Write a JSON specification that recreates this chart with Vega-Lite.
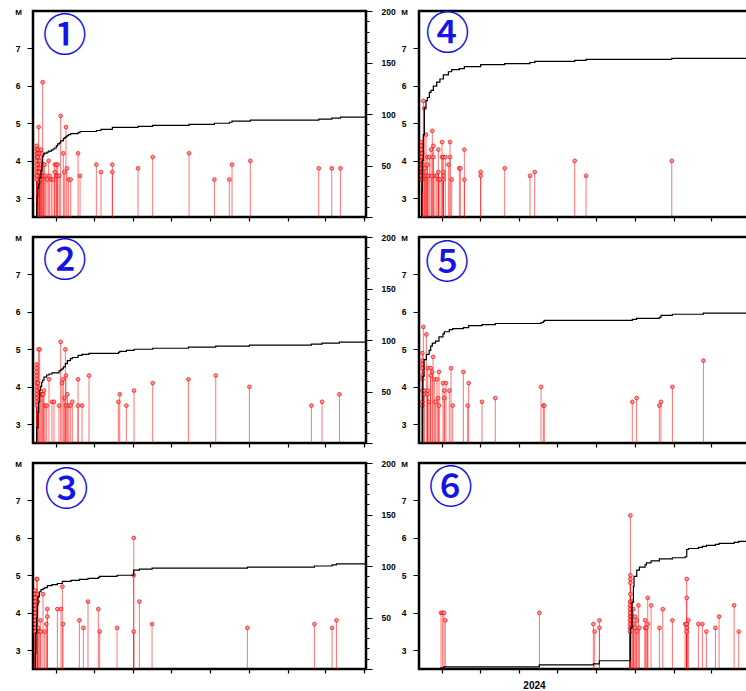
{
  "$schema": "https://vega.github.io/schema/vega-lite/v6.json",
  "padding": {"left": 13, "top": 5, "right": 0, "bottom": 22},
  "spacing": 2,
  "config": {
    "view": {"stroke": "black", "strokeWidth": 2.5},
    "axis": {"labelFont": "Liberation Sans", "labelFontSize": 8.5, "labelFontWeight": "bold", "labelColor": "black", "tickColor": "black", "titleFont": "Liberation Sans", "titleColor": "black"}
  },
  "datasets": {
    "ev": [
      {"p":1,"d":5.8,"m":4.4},{"p":1,"d":5.8,"m":4.3},{"p":1,"d":5.8,"m":4.2},{"p":1,"d":5.8,"m":4.1},{"p":1,"d":5.8,"m":4.0},{"p":1,"d":5.8,"m":3.9},{"p":1,"d":5.8,"m":3.8},{"p":1,"d":5.8,"m":3.7},{"p":1,"d":5.8,"m":3.6},{"p":1,"d":5.8,"m":3.5},
      {"p":1,"d":6.6,"m":3.6},{"p":1,"d":7.4,"m":4.3},{"p":1,"d":7.4,"m":4.2},{"p":1,"d":7.4,"m":4.1},{"p":1,"d":8.9,"m":4.9},{"p":1,"d":9.7,"m":3.7},
      {"p":1,"d":10.5,"m":4.2},{"p":1,"d":10.5,"m":4.0},{"p":1,"d":10.5,"m":3.8},{"p":1,"d":11.6,"m":3.5},{"p":1,"d":12.6,"m":4.3},{"p":1,"d":13.4,"m":3.6},
      {"p":1,"d":14.2,"m":4.2},{"p":1,"d":15.2,"m":6.1},{"p":1,"d":16.8,"m":3.9},{"p":1,"d":16.8,"m":3.6},{"p":1,"d":18.4,"m":3.9},{"p":1,"d":20.0,"m":3.6},
      {"p":1,"d":22.1,"m":3.5},{"p":1,"d":24.7,"m":4.0},{"p":1,"d":26.3,"m":3.6},{"p":1,"d":28.9,"m":3.5},{"p":1,"d":31.5,"m":3.5},{"p":1,"d":34.2,"m":3.9},
      {"p":1,"d":34.2,"m":3.7},{"p":1,"d":36.8,"m":3.9},{"p":1,"d":36.8,"m":3.6},{"p":1,"d":38.9,"m":3.9},{"p":1,"d":38.9,"m":3.6},{"p":1,"d":41.5,"m":3.6},
      {"p":1,"d":43.6,"m":5.2},{"p":1,"d":47.8,"m":4.2},{"p":1,"d":49.4,"m":3.7},{"p":1,"d":52.0,"m":4.9},{"p":1,"d":53.6,"m":3.8},{"p":1,"d":56.2,"m":3.5},
      {"p":1,"d":59.4,"m":3.5},{"p":1,"d":71.0,"m":4.2},{"p":1,"d":74.1,"m":3.6},{"p":1,"d":99.9,"m":3.9},{"p":1,"d":107.2,"m":3.7},{"p":1,"d":125.1,"m":3.9},
      {"p":1,"d":125.1,"m":3.7},{"p":1,"d":165.6,"m":3.8},{"p":1,"d":188.7,"m":4.1},{"p":1,"d":246.0,"m":4.2},{"p":1,"d":286.0,"m":3.5},{"p":1,"d":309.6,"m":3.5},
      {"p":1,"d":313.8,"m":3.9},{"p":1,"d":342.7,"m":4.0},{"p":1,"d":450.5,"m":3.8},{"p":1,"d":471.0,"m":3.8},{"p":1,"d":484.7,"m":3.8},

      {"p":2,"d":5.8,"m":4.6},{"p":2,"d":5.8,"m":4.5},{"p":2,"d":5.8,"m":4.4},{"p":2,"d":5.8,"m":4.3},{"p":2,"d":5.8,"m":4.2},{"p":2,"d":5.8,"m":4.1},
      {"p":2,"d":5.8,"m":4.0},{"p":2,"d":5.8,"m":3.9},{"p":2,"d":5.8,"m":3.8},{"p":2,"d":5.8,"m":3.7},{"p":2,"d":5.8,"m":3.6},{"p":2,"d":5.8,"m":3.5},
      {"p":2,"d":7.9,"m":4.1},{"p":2,"d":8.9,"m":5.0},{"p":2,"d":10.5,"m":5.0},{"p":2,"d":12.1,"m":3.8},{"p":2,"d":13.7,"m":3.8},{"p":2,"d":15.2,"m":3.8},
      {"p":2,"d":16.3,"m":3.8},{"p":2,"d":17.3,"m":3.9},{"p":2,"d":18.9,"m":3.5},{"p":2,"d":21.5,"m":3.5},{"p":2,"d":25.2,"m":4.2},{"p":2,"d":30.0,"m":3.6},
      {"p":2,"d":33.1,"m":3.6},{"p":2,"d":41.0,"m":3.5},{"p":2,"d":43.6,"m":5.2},{"p":2,"d":45.7,"m":4.1},{"p":2,"d":47.8,"m":4.2},{"p":2,"d":49.4,"m":3.7},
      {"p":2,"d":51.0,"m":5.0},{"p":2,"d":52.0,"m":4.3},{"p":2,"d":52.0,"m":3.5},{"p":2,"d":54.2,"m":3.8},{"p":2,"d":56.2,"m":3.5},{"p":2,"d":58.9,"m":3.5},
      {"p":2,"d":62.0,"m":3.6},{"p":2,"d":71.0,"m":4.2},{"p":2,"d":71.0,"m":3.5},{"p":2,"d":77.3,"m":3.5},{"p":2,"d":88.3,"m":4.3},{"p":2,"d":134.6,"m":3.6},
      {"p":2,"d":136.7,"m":3.8},{"p":2,"d":147.2,"m":3.5},{"p":2,"d":159.3,"m":3.9},{"p":2,"d":188.7,"m":4.1},{"p":2,"d":245.0,"m":4.2},{"p":2,"d":288.1,"m":4.3},
      {"p":2,"d":341.2,"m":4.0},{"p":2,"d":438.9,"m":3.5},{"p":2,"d":455.7,"m":3.6},{"p":2,"d":483.1,"m":3.8},

      {"p":3,"d":3.7,"m":4.6},{"p":3,"d":3.7,"m":4.5},{"p":3,"d":3.7,"m":4.4},{"p":3,"d":3.7,"m":4.3},{"p":3,"d":3.7,"m":4.2},{"p":3,"d":3.7,"m":4.1},
      {"p":3,"d":3.7,"m":4.0},{"p":3,"d":3.7,"m":3.9},{"p":3,"d":3.7,"m":3.8},{"p":3,"d":3.7,"m":3.7},{"p":3,"d":3.7,"m":3.6},{"p":3,"d":3.7,"m":3.5},
      {"p":3,"d":5.8,"m":4.9},{"p":3,"d":6.8,"m":4.9},{"p":3,"d":6.8,"m":4.5},{"p":3,"d":7.9,"m":4.3},{"p":3,"d":7.9,"m":3.6},{"p":3,"d":10.0,"m":3.5},
      {"p":3,"d":11.6,"m":3.8},{"p":3,"d":12.6,"m":3.5},{"p":3,"d":15.8,"m":4.5},{"p":3,"d":18.4,"m":3.5},{"p":3,"d":21.0,"m":3.7},{"p":3,"d":22.6,"m":4.1},
      {"p":3,"d":22.6,"m":3.9},{"p":3,"d":38.4,"m":4.1},{"p":3,"d":44.2,"m":4.1},{"p":3,"d":46.3,"m":4.7},{"p":3,"d":47.3,"m":3.7},{"p":3,"d":73.1,"m":3.8},
      {"p":3,"d":79.4,"m":3.6},{"p":3,"d":86.7,"m":4.3},{"p":3,"d":103.0,"m":4.1},{"p":3,"d":105.1,"m":3.5},{"p":3,"d":132.5,"m":3.6},{"p":3,"d":158.8,"m":6.0},
      {"p":3,"d":158.8,"m":5.0},{"p":3,"d":158.8,"m":3.5},{"p":3,"d":167.7,"m":4.3},{"p":3,"d":187.7,"m":3.7},{"p":3,"d":338.0,"m":3.6},{"p":3,"d":443.7,"m":3.7},
      {"p":3,"d":471.5,"m":3.6},{"p":3,"d":478.4,"m":3.8},

      {"p":4,"d":4.2,"m":4.5},{"p":4,"d":4.2,"m":4.4},{"p":4,"d":4.2,"m":4.3},{"p":4,"d":4.2,"m":4.2},{"p":4,"d":4.2,"m":4.1},{"p":4,"d":4.2,"m":4.0},
      {"p":4,"d":4.2,"m":3.9},{"p":4,"d":4.2,"m":3.8},{"p":4,"d":4.2,"m":3.7},{"p":4,"d":4.2,"m":3.6},{"p":4,"d":4.2,"m":3.5},
      {"p":4,"d":5.0,"m":4.2},{"p":4,"d":5.0,"m":3.9},{"p":4,"d":5.0,"m":3.7},{"p":4,"d":5.0,"m":3.5},{"p":4,"d":6.8,"m":5.6},{"p":4,"d":8.4,"m":5.4},
      {"p":4,"d":9.5,"m":3.6},{"p":4,"d":9.5,"m":3.8},{"p":4,"d":11.0,"m":4.7},{"p":4,"d":12.0,"m":3.6},{"p":4,"d":13.1,"m":4.1},{"p":4,"d":13.1,"m":3.9},
      {"p":4,"d":14.5,"m":3.6},{"p":4,"d":16.3,"m":4.1},{"p":4,"d":18.9,"m":4.3},{"p":4,"d":20.0,"m":3.6},{"p":4,"d":21.0,"m":4.8},{"p":4,"d":22.6,"m":4.4},
      {"p":4,"d":22.6,"m":4.1},{"p":4,"d":25.2,"m":3.6},{"p":4,"d":27.9,"m":3.6},{"p":4,"d":30.5,"m":4.3},{"p":4,"d":30.5,"m":3.7},{"p":4,"d":30.5,"m":3.5},
      {"p":4,"d":33.0,"m":3.5},{"p":4,"d":36.3,"m":4.5},{"p":4,"d":36.3,"m":4.1},{"p":4,"d":38.4,"m":4.1},{"p":4,"d":38.4,"m":3.7},{"p":4,"d":38.4,"m":3.6},
      {"p":4,"d":38.4,"m":3.5},{"p":4,"d":41.5,"m":4.1},{"p":4,"d":46.3,"m":3.9},{"p":4,"d":48.9,"m":4.5},{"p":4,"d":48.9,"m":4.1},{"p":4,"d":51.5,"m":3.5},
      {"p":4,"d":63.6,"m":3.8},{"p":4,"d":65.2,"m":3.8},{"p":4,"d":71.5,"m":4.3},{"p":4,"d":71.5,"m":3.5},{"p":4,"d":97.2,"m":3.7},{"p":4,"d":97.2,"m":3.6},
      {"p":4,"d":135.1,"m":3.8},{"p":4,"d":175.0,"m":3.6},{"p":4,"d":182.4,"m":3.7},{"p":4,"d":245.5,"m":4.0},{"p":4,"d":263.4,"m":3.6},{"p":4,"d":398.5,"m":4.0},

      {"p":5,"d":5.3,"m":4.9},{"p":5,"d":5.3,"m":4.7},{"p":5,"d":5.3,"m":4.6},{"p":5,"d":5.3,"m":4.5},{"p":5,"d":5.3,"m":4.3},{"p":5,"d":5.3,"m":4.2},
      {"p":5,"d":5.3,"m":3.9},{"p":5,"d":5.3,"m":3.6},{"p":5,"d":5.3,"m":3.5},{"p":5,"d":6.8,"m":5.6},{"p":5,"d":8.0,"m":3.8},{"p":5,"d":8.0,"m":3.9},
      {"p":5,"d":11.6,"m":5.4},{"p":5,"d":13.7,"m":4.5},{"p":5,"d":13.7,"m":3.9},{"p":5,"d":13.7,"m":3.8},{"p":5,"d":16.0,"m":3.6},{"p":5,"d":18.4,"m":4.5},
      {"p":5,"d":18.4,"m":4.3},{"p":5,"d":21.0,"m":4.4},{"p":5,"d":22.1,"m":4.8},{"p":5,"d":24.2,"m":4.2},{"p":5,"d":26.0,"m":3.6},{"p":5,"d":28.4,"m":4.2},
      {"p":5,"d":30.0,"m":3.7},{"p":5,"d":31.5,"m":4.4},{"p":5,"d":31.5,"m":3.5},{"p":5,"d":37.8,"m":4.1},{"p":5,"d":39.9,"m":3.9},{"p":5,"d":39.9,"m":3.7},
      {"p":5,"d":42.6,"m":4.1},{"p":5,"d":47.8,"m":3.9},{"p":5,"d":50.5,"m":4.5},{"p":5,"d":53.1,"m":3.5},{"p":5,"d":69.9,"m":4.4},{"p":5,"d":76.7,"m":3.5},
      {"p":5,"d":78.3,"m":4.1},{"p":5,"d":99.3,"m":3.6},{"p":5,"d":120.3,"m":3.7},{"p":5,"d":192.4,"m":4.0},{"p":5,"d":196.0,"m":3.5},{"p":5,"d":197.6,"m":3.5},
      {"p":5,"d":336.3,"m":3.6},{"p":5,"d":343.1,"m":3.7},{"p":5,"d":378.9,"m":3.5},{"p":5,"d":381.5,"m":3.6},{"p":5,"d":399.5,"m":4.0},{"p":5,"d":448.4,"m":4.7},

      {"p":6,"d":34.7,"m":4.0},{"p":6,"d":37.3,"m":4.0},{"p":6,"d":39.4,"m":4.0},{"p":6,"d":41.5,"m":3.8},{"p":6,"d":189.8,"m":4.0},{"p":6,"d":274.9,"m":3.7},
      {"p":6,"d":277.0,"m":3.5},{"p":6,"d":284.4,"m":3.8},{"p":6,"d":284.4,"m":3.6},{"p":6,"d":333.3,"m":6.6},{"p":6,"d":333.3,"m":5.0},{"p":6,"d":333.3,"m":4.9},
      {"p":6,"d":333.3,"m":4.8},{"p":6,"d":333.3,"m":4.5},{"p":6,"d":332.7,"m":4.3},{"p":6,"d":332.7,"m":4.2},{"p":6,"d":332.7,"m":4.1},{"p":6,"d":332.7,"m":4.0},
      {"p":6,"d":332.7,"m":3.9},{"p":6,"d":332.7,"m":3.8},{"p":6,"d":332.7,"m":3.7},{"p":6,"d":332.7,"m":3.6},{"p":6,"d":332.7,"m":3.5},{"p":6,"d":335.9,"m":4.3},
      {"p":6,"d":335.9,"m":3.9},{"p":6,"d":338.0,"m":4.1},{"p":6,"d":338.0,"m":3.7},{"p":6,"d":340.6,"m":3.9},{"p":6,"d":340.6,"m":3.6},{"p":6,"d":343.3,"m":3.8},
      {"p":6,"d":343.3,"m":3.5},{"p":6,"d":345.9,"m":4.2},{"p":6,"d":347.5,"m":3.6},{"p":6,"d":356.4,"m":3.8},{"p":6,"d":356.4,"m":3.6},{"p":6,"d":358.5,"m":3.6},
      {"p":6,"d":360.6,"m":4.4},{"p":6,"d":360.6,"m":3.7},{"p":6,"d":365.9,"m":4.2},{"p":6,"d":379.0,"m":3.6},{"p":6,"d":384.3,"m":4.1},{"p":6,"d":399.5,"m":3.8},
      {"p":6,"d":419.5,"m":3.7},{"p":6,"d":422.1,"m":4.9},{"p":6,"d":422.1,"m":4.4},{"p":6,"d":422.1,"m":3.7},{"p":6,"d":422.1,"m":3.6},{"p":6,"d":422.1,"m":3.5},
      {"p":6,"d":424.7,"m":3.8},{"p":6,"d":440.5,"m":3.7},{"p":6,"d":446.8,"m":3.7},{"p":6,"d":453.1,"m":3.5},{"p":6,"d":467.3,"m":3.6},{"p":6,"d":473.1,"m":3.9},
      {"p":6,"d":496.8,"m":4.2},{"p":6,"d":504.1,"m":3.5}
    ],
    "cum": [
      {"p":1,"d":5.5,"n":0},{"p":1,"d":5.8,"n":12},{"p":1,"d":6.6,"n":20},{"p":1,"d":7.4,"n":28},{"p":1,"d":8.9,"n":32},{"p":1,"d":10.5,"n":38},{"p":1,"d":12.6,"n":45},
      {"p":1,"d":14.2,"n":52},{"p":1,"d":15.2,"n":59},{"p":1,"d":16.8,"n":61},{"p":1,"d":18.4,"n":62},{"p":1,"d":22.1,"n":63},{"p":1,"d":24.7,"n":64},{"p":1,"d":28.9,"n":65},
      {"p":1,"d":31.5,"n":66},{"p":1,"d":34.2,"n":67},{"p":1,"d":36.8,"n":69},{"p":1,"d":38.9,"n":71},{"p":1,"d":41.5,"n":72},{"p":1,"d":43.6,"n":74},{"p":1,"d":47.8,"n":76},
      {"p":1,"d":49.4,"n":77},{"p":1,"d":52.0,"n":78},{"p":1,"d":53.6,"n":79},{"p":1,"d":56.2,"n":80},{"p":1,"d":59.4,"n":81},{"p":1,"d":71.0,"n":82},{"p":1,"d":74.1,"n":83},
      {"p":1,"d":99.9,"n":84},{"p":1,"d":107.2,"n":85},{"p":1,"d":125.1,"n":87},{"p":1,"d":165.6,"n":88},{"p":1,"d":188.7,"n":89},{"p":1,"d":246.0,"n":90},{"p":1,"d":286.0,"n":91},
      {"p":1,"d":309.6,"n":92},{"p":1,"d":313.8,"n":93},{"p":1,"d":342.7,"n":94},{"p":1,"d":450.5,"n":95},{"p":1,"d":471.0,"n":96},{"p":1,"d":484.7,"n":97},{"p":1,"d":525,"n":97},

      {"p":2,"d":5.5,"n":0},{"p":2,"d":5.8,"n":15},{"p":2,"d":7.9,"n":30},{"p":2,"d":8.9,"n":40},{"p":2,"d":10.5,"n":51},{"p":2,"d":12.1,"n":55},{"p":2,"d":13.7,"n":59},
      {"p":2,"d":15.2,"n":61},{"p":2,"d":17.3,"n":64},{"p":2,"d":21.5,"n":66},{"p":2,"d":25.2,"n":67},{"p":2,"d":30.0,"n":68},{"p":2,"d":41.0,"n":70},{"p":2,"d":43.6,"n":71},
      {"p":2,"d":45.7,"n":72},{"p":2,"d":47.8,"n":74},{"p":2,"d":51.0,"n":77},{"p":2,"d":54.2,"n":80},{"p":2,"d":58.9,"n":82},{"p":2,"d":62.0,"n":83},{"p":2,"d":71.0,"n":85},
      {"p":2,"d":77.3,"n":86},{"p":2,"d":88.3,"n":87},{"p":2,"d":134.6,"n":88},{"p":2,"d":136.7,"n":89},{"p":2,"d":147.2,"n":90},{"p":2,"d":159.3,"n":91},{"p":2,"d":188.7,"n":92},
      {"p":2,"d":245.0,"n":93},{"p":2,"d":288.1,"n":94},{"p":2,"d":341.2,"n":95},{"p":2,"d":438.9,"n":96},{"p":2,"d":455.7,"n":97},{"p":2,"d":483.1,"n":98},{"p":2,"d":525,"n":98},

      {"p":3,"d":3.5,"n":0},{"p":3,"d":3.7,"n":15},{"p":3,"d":4.5,"n":35},{"p":3,"d":5.8,"n":50},{"p":3,"d":6.8,"n":62},{"p":3,"d":7.9,"n":70},{"p":3,"d":10.0,"n":75},
      {"p":3,"d":12.6,"n":77},{"p":3,"d":15.8,"n":78},{"p":3,"d":18.4,"n":79},{"p":3,"d":22.6,"n":81},{"p":3,"d":30.0,"n":82},{"p":3,"d":38.4,"n":83},{"p":3,"d":46.3,"n":85},
      {"p":3,"d":60.0,"n":86},{"p":3,"d":73.1,"n":87},{"p":3,"d":86.7,"n":88},{"p":3,"d":103.0,"n":89},{"p":3,"d":105.1,"n":90},{"p":3,"d":132.5,"n":91},{"p":3,"d":158.8,"n":96},
      {"p":3,"d":167.7,"n":97},{"p":3,"d":187.7,"n":98},{"p":3,"d":338.0,"n":99},{"p":3,"d":443.7,"n":100},{"p":3,"d":471.5,"n":101},{"p":3,"d":478.4,"n":102},{"p":3,"d":525,"n":102},

      {"p":4,"d":4.0,"n":0},{"p":4,"d":4.2,"n":25},{"p":4,"d":5.0,"n":55},{"p":4,"d":6.8,"n":80},{"p":4,"d":8.4,"n":106},{"p":4,"d":11.0,"n":113},{"p":4,"d":13.1,"n":116},
      {"p":4,"d":16.3,"n":121},{"p":4,"d":18.9,"n":123},{"p":4,"d":22.6,"n":127},{"p":4,"d":27.9,"n":131},{"p":4,"d":33.0,"n":134},{"p":4,"d":38.4,"n":138},{"p":4,"d":46.3,"n":141},
      {"p":4,"d":51.5,"n":143},{"p":4,"d":63.6,"n":144},{"p":4,"d":71.5,"n":146},{"p":4,"d":97.2,"n":148},{"p":4,"d":135.1,"n":149},{"p":4,"d":175.0,"n":150},{"p":4,"d":182.4,"n":151},
      {"p":4,"d":245.5,"n":152},{"p":4,"d":263.4,"n":153},{"p":4,"d":398.5,"n":154},{"p":4,"d":525,"n":154},

      {"p":5,"d":4.8,"n":0},{"p":5,"d":5.3,"n":35},{"p":5,"d":6.0,"n":65},{"p":5,"d":8.0,"n":81},{"p":5,"d":11.6,"n":86},{"p":5,"d":16.0,"n":90},{"p":5,"d":18.4,"n":94},
      {"p":5,"d":21.0,"n":97},{"p":5,"d":26.0,"n":99},{"p":5,"d":31.5,"n":103},{"p":5,"d":37.8,"n":106},{"p":5,"d":39.9,"n":108},{"p":5,"d":47.8,"n":110},{"p":5,"d":53.1,"n":111},
      {"p":5,"d":69.9,"n":112},{"p":5,"d":78.3,"n":114},{"p":5,"d":99.3,"n":115},{"p":5,"d":120.3,"n":116},{"p":5,"d":192.4,"n":117},{"p":5,"d":196.0,"n":118},{"p":5,"d":197.6,"n":119},
      {"p":5,"d":336.3,"n":120},{"p":5,"d":343.1,"n":121},{"p":5,"d":378.9,"n":122},{"p":5,"d":381.5,"n":124},{"p":5,"d":399.5,"n":125},{"p":5,"d":448.4,"n":126},{"p":5,"d":525,"n":126},

      {"p":6,"d":34.0,"n":0},{"p":6,"d":34.7,"n":1},{"p":6,"d":39.4,"n":2},{"p":6,"d":189.8,"n":4},{"p":6,"d":274.9,"n":5},{"p":6,"d":284.4,"n":8},{"p":6,"d":333.3,"n":40},
      {"p":6,"d":335.9,"n":65},{"p":6,"d":338.0,"n":80},{"p":6,"d":339.0,"n":90},{"p":6,"d":343.3,"n":96},{"p":6,"d":347.5,"n":99},{"p":6,"d":356.4,"n":101},{"p":6,"d":358.5,"n":103},
      {"p":6,"d":365.9,"n":105},{"p":6,"d":379.0,"n":107},{"p":6,"d":399.5,"n":108},{"p":6,"d":419.5,"n":109},{"p":6,"d":422.1,"n":116},{"p":6,"d":424.7,"n":117},{"p":6,"d":440.5,"n":118},
      {"p":6,"d":446.8,"n":119},{"p":6,"d":453.1,"n":120},{"p":6,"d":467.3,"n":121},{"p":6,"d":473.1,"n":122},{"p":6,"d":496.8,"n":123},{"p":6,"d":504.1,"n":124},{"p":6,"d":525,"n":124}
    ]
  },
  "hconcat": [
    {
      "vconcat": [
        {
          "width": 333, "height": 206,
          "layer": [
            {"layer": [
              {"data": {"name": "ev"}, "transform": [{"filter": "datum.p == 1"}],
               "mark": {"type": "rule", "color": "#ff0000", "strokeWidth": 1, "opacity": 0.55},
               "encoding": {
                 "x": {"field": "d", "type": "quantitative", "scale": {"domain": [0, 525], "nice": false, "zero": false},
                       "axis": {"values": [36,65,96,126,157,187,218,249,279,310,340,371,402,430,461,491,522], "labels": false, "grid": false, "domain": false, "title": null, "tickWidth": 1.2, "tickSize": {"condition": {"test": "datum.value == 371", "value": 7}, "value": 4}}},
                 "y": {"field": "m", "type": "quantitative", "scale": {"domain": [2.5, 8], "nice": false, "zero": false},
                       "axis": {"orient": "left", "values": [3,4,5,6,7], "grid": false, "domain": false, "tickSize": 6, "labelPadding": 7, "title": "M", "titleAngle": 0, "titleAlign": "center", "titleBaseline": "middle", "titleX": -15, "titleY": 1, "titleFontSize": 8, "titleFontWeight": "bold"}},
                 "y2": {"datum": 2.5}}},
              {"data": {"name": "ev"}, "transform": [{"filter": "datum.p == 1"}],
               "mark": {"type": "point", "shape": "circle", "size": 14, "filled": true, "fill": "#ff9090", "stroke": "#ff0000", "strokeWidth": 0.8, "opacity": 0.9},
               "encoding": {"x": {"field": "d", "type": "quantitative"}, "y": {"field": "m", "type": "quantitative"}}},
              {"data": {"values": [{"t": "①"}]},
               "mark": {"type": "text", "font": "Noto Sans CJK JP", "fontSize": 44, "fontWeight": 500, "color": "#1414e6", "align": "center", "baseline": "middle"},
               "encoding": {"x": {"datum": 50}, "y": {"datum": 7.28}, "text": {"field": "t"}}}
            ]},
            {"data": {"name": "cum"}, "transform": [{"filter": "datum.p == 1"}],
             "mark": {"type": "line", "interpolate": "step-after", "color": "black", "strokeWidth": 1.2},
             "encoding": {"x": {"field": "d", "type": "quantitative"},
                          "y": {"field": "n", "type": "quantitative", "scale": {"domain": [0, 200], "nice": false},
                                "axis": {"orient": "right", "values": [0,10,20,30,40,50,60,70,80,90,100,110,120,130,140,150,160,170,180,190,200], "grid": false, "domain": false, "title": null, "labelPadding": 9, "labelOverlap": false, "labelExpr": "datum.value % 50 == 0 && datum.value > 0 ? datum.label : ''", "tickSize": {"condition": {"test": "datum.value % 50 == 0", "value": 6}, "value": 3}}}}}
          ],
          "resolve": {"scale": {"y": "independent"}}
        },
        {
          "width": 333, "height": 206,
          "layer": [
            {"layer": [
              {"data": {"name": "ev"}, "transform": [{"filter": "datum.p == 2"}],
               "mark": {"type": "rule", "color": "#ff0000", "strokeWidth": 1, "opacity": 0.55},
               "encoding": {
                 "x": {"field": "d", "type": "quantitative", "scale": {"domain": [0, 525], "nice": false, "zero": false},
                       "axis": {"values": [36,65,96,126,157,187,218,249,279,310,340,371,402,430,461,491,522], "labels": false, "grid": false, "domain": false, "title": null, "tickWidth": 1.2, "tickSize": {"condition": {"test": "datum.value == 371", "value": 7}, "value": 4}}},
                 "y": {"field": "m", "type": "quantitative", "scale": {"domain": [2.5, 8], "nice": false, "zero": false},
                       "axis": {"orient": "left", "values": [3,4,5,6,7], "grid": false, "domain": false, "tickSize": 6, "labelPadding": 7, "title": "M", "titleAngle": 0, "titleAlign": "center", "titleBaseline": "middle", "titleX": -15, "titleY": 1, "titleFontSize": 8, "titleFontWeight": "bold"}},
                 "y2": {"datum": 2.5}}},
              {"data": {"name": "ev"}, "transform": [{"filter": "datum.p == 2"}],
               "mark": {"type": "point", "shape": "circle", "size": 14, "filled": true, "fill": "#ff9090", "stroke": "#ff0000", "strokeWidth": 0.8, "opacity": 0.9},
               "encoding": {"x": {"field": "d", "type": "quantitative"}, "y": {"field": "m", "type": "quantitative"}}},
              {"data": {"values": [{"t": "②"}]},
               "mark": {"type": "text", "font": "Noto Sans CJK JP", "fontSize": 44, "fontWeight": 500, "color": "#1414e6", "align": "center", "baseline": "middle"},
               "encoding": {"x": {"datum": 50}, "y": {"datum": 7.3}, "text": {"field": "t"}}}
            ]},
            {"data": {"name": "cum"}, "transform": [{"filter": "datum.p == 2"}],
             "mark": {"type": "line", "interpolate": "step-after", "color": "black", "strokeWidth": 1.2},
             "encoding": {"x": {"field": "d", "type": "quantitative"},
                          "y": {"field": "n", "type": "quantitative", "scale": {"domain": [0, 200], "nice": false},
                                "axis": {"orient": "right", "values": [0,10,20,30,40,50,60,70,80,90,100,110,120,130,140,150,160,170,180,190,200], "grid": false, "domain": false, "title": null, "labelPadding": 9, "labelOverlap": false, "labelExpr": "datum.value % 50 == 0 && datum.value > 0 ? datum.label : ''", "tickSize": {"condition": {"test": "datum.value % 50 == 0", "value": 6}, "value": 3}}}}}
          ],
          "resolve": {"scale": {"y": "independent"}}
        },
        {
          "width": 333, "height": 206,
          "layer": [
            {"layer": [
              {"data": {"name": "ev"}, "transform": [{"filter": "datum.p == 3"}],
               "mark": {"type": "rule", "color": "#ff0000", "strokeWidth": 1, "opacity": 0.55},
               "encoding": {
                 "x": {"field": "d", "type": "quantitative", "scale": {"domain": [0, 525], "nice": false, "zero": false},
                       "axis": {"values": [36,65,96,126,157,187,218,249,279,310,340,371,402,430,461,491,522], "labels": false, "grid": false, "domain": false, "title": null, "tickWidth": 1.2, "tickSize": {"condition": {"test": "datum.value == 371", "value": 7}, "value": 4}}},
                 "y": {"field": "m", "type": "quantitative", "scale": {"domain": [2.5, 8], "nice": false, "zero": false},
                       "axis": {"orient": "left", "values": [3,4,5,6,7], "grid": false, "domain": false, "tickSize": 6, "labelPadding": 7, "title": "M", "titleAngle": 0, "titleAlign": "center", "titleBaseline": "middle", "titleX": -15, "titleY": 1, "titleFontSize": 8, "titleFontWeight": "bold"}},
                 "y2": {"datum": 2.5}}},
              {"data": {"name": "ev"}, "transform": [{"filter": "datum.p == 3"}],
               "mark": {"type": "point", "shape": "circle", "size": 14, "filled": true, "fill": "#ff9090", "stroke": "#ff0000", "strokeWidth": 0.8, "opacity": 0.9},
               "encoding": {"x": {"field": "d", "type": "quantitative"}, "y": {"field": "m", "type": "quantitative"}}},
              {"data": {"values": [{"t": "③"}]},
               "mark": {"type": "text", "font": "Noto Sans CJK JP", "fontSize": 44, "fontWeight": 500, "color": "#1414e6", "align": "center", "baseline": "middle"},
               "encoding": {"x": {"datum": 53}, "y": {"datum": 7.22}, "text": {"field": "t"}}}
            ]},
            {"data": {"name": "cum"}, "transform": [{"filter": "datum.p == 3"}],
             "mark": {"type": "line", "interpolate": "step-after", "color": "black", "strokeWidth": 1.2},
             "encoding": {"x": {"field": "d", "type": "quantitative"},
                          "y": {"field": "n", "type": "quantitative", "scale": {"domain": [0, 200], "nice": false},
                                "axis": {"orient": "right", "values": [0,10,20,30,40,50,60,70,80,90,100,110,120,130,140,150,160,170,180,190,200], "grid": false, "domain": false, "title": null, "labelPadding": 9, "labelOverlap": false, "labelExpr": "datum.value % 50 == 0 && datum.value > 0 ? datum.label : ''", "tickSize": {"condition": {"test": "datum.value % 50 == 0", "value": 6}, "value": 3}}}}}
          ],
          "resolve": {"scale": {"y": "independent"}}
        }
      ],
      "spacing": 20,
      "bounds": "flush"
    },
    {
      "vconcat": [
        {
          "width": 333, "height": 206,
          "layer": [
            {"layer": [
              {"data": {"name": "ev"}, "transform": [{"filter": "datum.p == 4"}],
               "mark": {"type": "rule", "color": "#ff0000", "strokeWidth": 1, "opacity": 0.55},
               "encoding": {
                 "x": {"field": "d", "type": "quantitative", "scale": {"domain": [0, 525], "nice": false, "zero": false},
                       "axis": {"values": [36,65,96,126,157,187,218,249,279,310,340,371,402,430,461,491,522], "labels": false, "grid": false, "domain": false, "title": null, "tickWidth": 1.2, "tickSize": {"condition": {"test": "datum.value == 371", "value": 7}, "value": 4}}},
                 "y": {"field": "m", "type": "quantitative", "scale": {"domain": [2.5, 8], "nice": false, "zero": false},
                       "axis": {"orient": "left", "values": [3,4,5,6,7], "grid": false, "domain": false, "tickSize": 6, "labelPadding": 7, "title": "M", "titleAngle": 0, "titleAlign": "center", "titleBaseline": "middle", "titleX": -15, "titleY": 1, "titleFontSize": 8, "titleFontWeight": "bold"}},
                 "y2": {"datum": 2.5}}},
              {"data": {"name": "ev"}, "transform": [{"filter": "datum.p == 4"}],
               "mark": {"type": "point", "shape": "circle", "size": 14, "filled": true, "fill": "#ff9090", "stroke": "#ff0000", "strokeWidth": 0.8, "opacity": 0.9},
               "encoding": {"x": {"field": "d", "type": "quantitative"}, "y": {"field": "m", "type": "quantitative"}}},
              {"data": {"values": [{"t": "④"}]},
               "mark": {"type": "text", "font": "Noto Sans CJK JP", "fontSize": 44, "fontWeight": 500, "color": "#1414e6", "align": "center", "baseline": "middle"},
               "encoding": {"x": {"datum": 45}, "y": {"datum": 7.33}, "text": {"field": "t"}}}
            ]},
            {"data": {"name": "cum"}, "transform": [{"filter": "datum.p == 4"}],
             "mark": {"type": "line", "interpolate": "step-after", "color": "black", "strokeWidth": 1.2},
             "encoding": {"x": {"field": "d", "type": "quantitative"},
                          "y": {"field": "n", "type": "quantitative", "scale": {"domain": [0, 200], "nice": false}, "axis": null}}}
          ],
          "resolve": {"scale": {"y": "independent"}}
        },
        {
          "width": 333, "height": 206,
          "layer": [
            {"layer": [
              {"data": {"name": "ev"}, "transform": [{"filter": "datum.p == 5"}],
               "mark": {"type": "rule", "color": "#ff0000", "strokeWidth": 1, "opacity": 0.55},
               "encoding": {
                 "x": {"field": "d", "type": "quantitative", "scale": {"domain": [0, 525], "nice": false, "zero": false},
                       "axis": {"values": [36,65,96,126,157,187,218,249,279,310,340,371,402,430,461,491,522], "labels": false, "grid": false, "domain": false, "title": null, "tickWidth": 1.2, "tickSize": {"condition": {"test": "datum.value == 371", "value": 7}, "value": 4}}},
                 "y": {"field": "m", "type": "quantitative", "scale": {"domain": [2.5, 8], "nice": false, "zero": false},
                       "axis": {"orient": "left", "values": [3,4,5,6,7], "grid": false, "domain": false, "tickSize": 6, "labelPadding": 7, "title": "M", "titleAngle": 0, "titleAlign": "center", "titleBaseline": "middle", "titleX": -15, "titleY": 1, "titleFontSize": 8, "titleFontWeight": "bold"}},
                 "y2": {"datum": 2.5}}},
              {"data": {"name": "ev"}, "transform": [{"filter": "datum.p == 5"}],
               "mark": {"type": "point", "shape": "circle", "size": 14, "filled": true, "fill": "#ff9090", "stroke": "#ff0000", "strokeWidth": 0.8, "opacity": 0.9},
               "encoding": {"x": {"field": "d", "type": "quantitative"}, "y": {"field": "m", "type": "quantitative"}}},
              {"data": {"values": [{"t": "⑤"}]},
               "mark": {"type": "text", "font": "Noto Sans CJK JP", "fontSize": 44, "fontWeight": 500, "color": "#1414e6", "align": "center", "baseline": "middle"},
               "encoding": {"x": {"datum": 44}, "y": {"datum": 7.26}, "text": {"field": "t"}}}
            ]},
            {"data": {"name": "cum"}, "transform": [{"filter": "datum.p == 5"}],
             "mark": {"type": "line", "interpolate": "step-after", "color": "black", "strokeWidth": 1.2},
             "encoding": {"x": {"field": "d", "type": "quantitative"},
                          "y": {"field": "n", "type": "quantitative", "scale": {"domain": [0, 200], "nice": false}, "axis": null}}}
          ],
          "resolve": {"scale": {"y": "independent"}}
        },
        {
          "width": 333, "height": 206,
          "layer": [
            {"layer": [
              {"data": {"name": "ev"}, "transform": [{"filter": "datum.p == 6"}],
               "mark": {"type": "rule", "color": "#ff0000", "strokeWidth": 1, "opacity": 0.55},
               "encoding": {
                 "x": {"field": "d", "type": "quantitative", "scale": {"domain": [0, 525], "nice": false, "zero": false},
                       "axis": {"values": [36,65,96,126,157,187,218,249,279,310,340,371,402,430,461,491,522], "labels": false, "grid": false, "domain": false, "title": null, "tickWidth": 1.2, "tickSize": {"condition": {"test": "datum.value == 371", "value": 7}, "value": 4}}},
                 "y": {"field": "m", "type": "quantitative", "scale": {"domain": [2.5, 8], "nice": false, "zero": false},
                       "axis": {"orient": "left", "values": [3,4,5,6,7], "grid": false, "domain": false, "tickSize": 6, "labelPadding": 7, "title": "M", "titleAngle": 0, "titleAlign": "center", "titleBaseline": "middle", "titleX": -15, "titleY": 1, "titleFontSize": 8, "titleFontWeight": "bold"}},
                 "y2": {"datum": 2.5}}},
              {"data": {"name": "ev"}, "transform": [{"filter": "datum.p == 6"}],
               "mark": {"type": "point", "shape": "circle", "size": 14, "filled": true, "fill": "#ff9090", "stroke": "#ff0000", "strokeWidth": 0.8, "opacity": 0.9},
               "encoding": {"x": {"field": "d", "type": "quantitative"}, "y": {"field": "m", "type": "quantitative"}}},
              {"data": {"values": [{"t": "⑥"}]},
               "mark": {"type": "text", "font": "Noto Sans CJK JP", "fontSize": 44, "fontWeight": 500, "color": "#1414e6", "align": "center", "baseline": "middle"},
               "encoding": {"x": {"datum": 50}, "y": {"datum": 7.27}, "text": {"field": "t"}}},
              {"data": {"values": [{"yr": "2024"}]},
               "mark": {"type": "text", "font": "Liberation Sans", "fontSize": 10, "fontWeight": "bold", "color": "black", "align": "center", "baseline": "middle"},
               "encoding": {"x": {"datum": 182}, "y": {"datum": 2.04}, "text": {"field": "yr"}}}
            ]},
            {"data": {"name": "cum"}, "transform": [{"filter": "datum.p == 6"}],
             "mark": {"type": "line", "interpolate": "step-after", "color": "black", "strokeWidth": 1.2},
             "encoding": {"x": {"field": "d", "type": "quantitative"},
                          "y": {"field": "n", "type": "quantitative", "scale": {"domain": [0, 200], "nice": false}, "axis": null}}}
          ],
          "resolve": {"scale": {"y": "independent"}}
        }
      ],
      "spacing": 20,
      "bounds": "flush"
    }
  ]
}
